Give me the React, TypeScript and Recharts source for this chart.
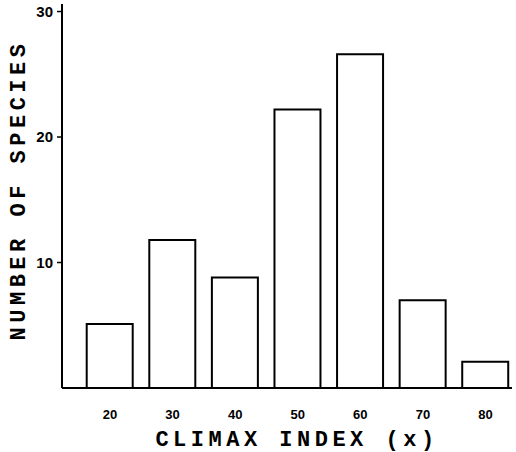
import React from 'react';
import { BarChart, Bar, XAxis, YAxis, Label } from 'recharts';

const categories = [20, 30, 40, 50, 60, 70, 80];
const speciesCounts = [5.1, 11.8, 8.8, 22.2, 26.6, 7.0, 2.1];
const yTicks = [10, 20, 30];
const xTicks = [20, 30, 40, 50, 60, 70, 80];

const data = categories.map((c, i) => ({ index: c, count: speciesCounts[i] }));

const titleFont = '"Liberation Mono", "DejaVu Sans Mono", monospace';
const tickFont = '"Liberation Sans", Arial, sans-serif';

const XTitle = (props: any) => {
  const vb = props.viewBox || {};
  const cx = vb.x + vb.width / 2 + 10;
  return (
    <text x={cx} y={446} textAnchor="middle" fontFamily={titleFont} fontWeight="bold" fontSize={22} letterSpacing={4.5} fill="#000">
      CLIMAX INDEX (x)
    </text>
  );
};

const YTitle = (props: any) => {
  return (
    <text x={19} y={190} transform="rotate(-90 19 190)" textAnchor="middle" dominantBaseline="central" fontFamily={titleFont} fontWeight="bold" fontSize={22} letterSpacing={4.5} fill="#000">
      NUMBER OF SPECIES
    </text>
  );
};

export default function App() {
  return (
    <div style={{ position: 'absolute', left: 0, top: 0, background: '#fff' }}>
      <BarChart width={516} height={452} data={data} margin={{ top: 4, right: 4, left: 0, bottom: 0 }}>
        <XAxis
          dataKey="index"
          type="number"
          domain={[12.33, 84.23]}
          allowDataOverflow
          ticks={xTicks}
          height={64}
          tickLine={false}
          tickSize={6}
          tickMargin={16}
          axisLine={{ stroke: '#000', strokeWidth: 2 }}
          tick={{ fill: '#000', fontSize: 13, fontWeight: 'bold', fontFamily: tickFont }}
        >
          <Label content={<XTitle />} />
        </XAxis>
        <YAxis
          type="number"
          domain={[0, 30.6]}
          allowDataOverflow
          ticks={yTicks}
          width={62}
          tickSize={5}
          tickMargin={4}
          axisLine={{ stroke: '#000', strokeWidth: 2 }}
          tickLine={{ stroke: '#000', strokeWidth: 1.5 }}
          tick={{ fill: '#000', fontSize: 15, fontWeight: 'bold', fontFamily: tickFont }}
        >
          <Label content={<YTitle />} />
        </YAxis>
        <Bar dataKey="count" fill="#fff" stroke="#000" strokeWidth={2} barSize={46} isAnimationActive={false} />
      </BarChart>
    </div>
  );
}
